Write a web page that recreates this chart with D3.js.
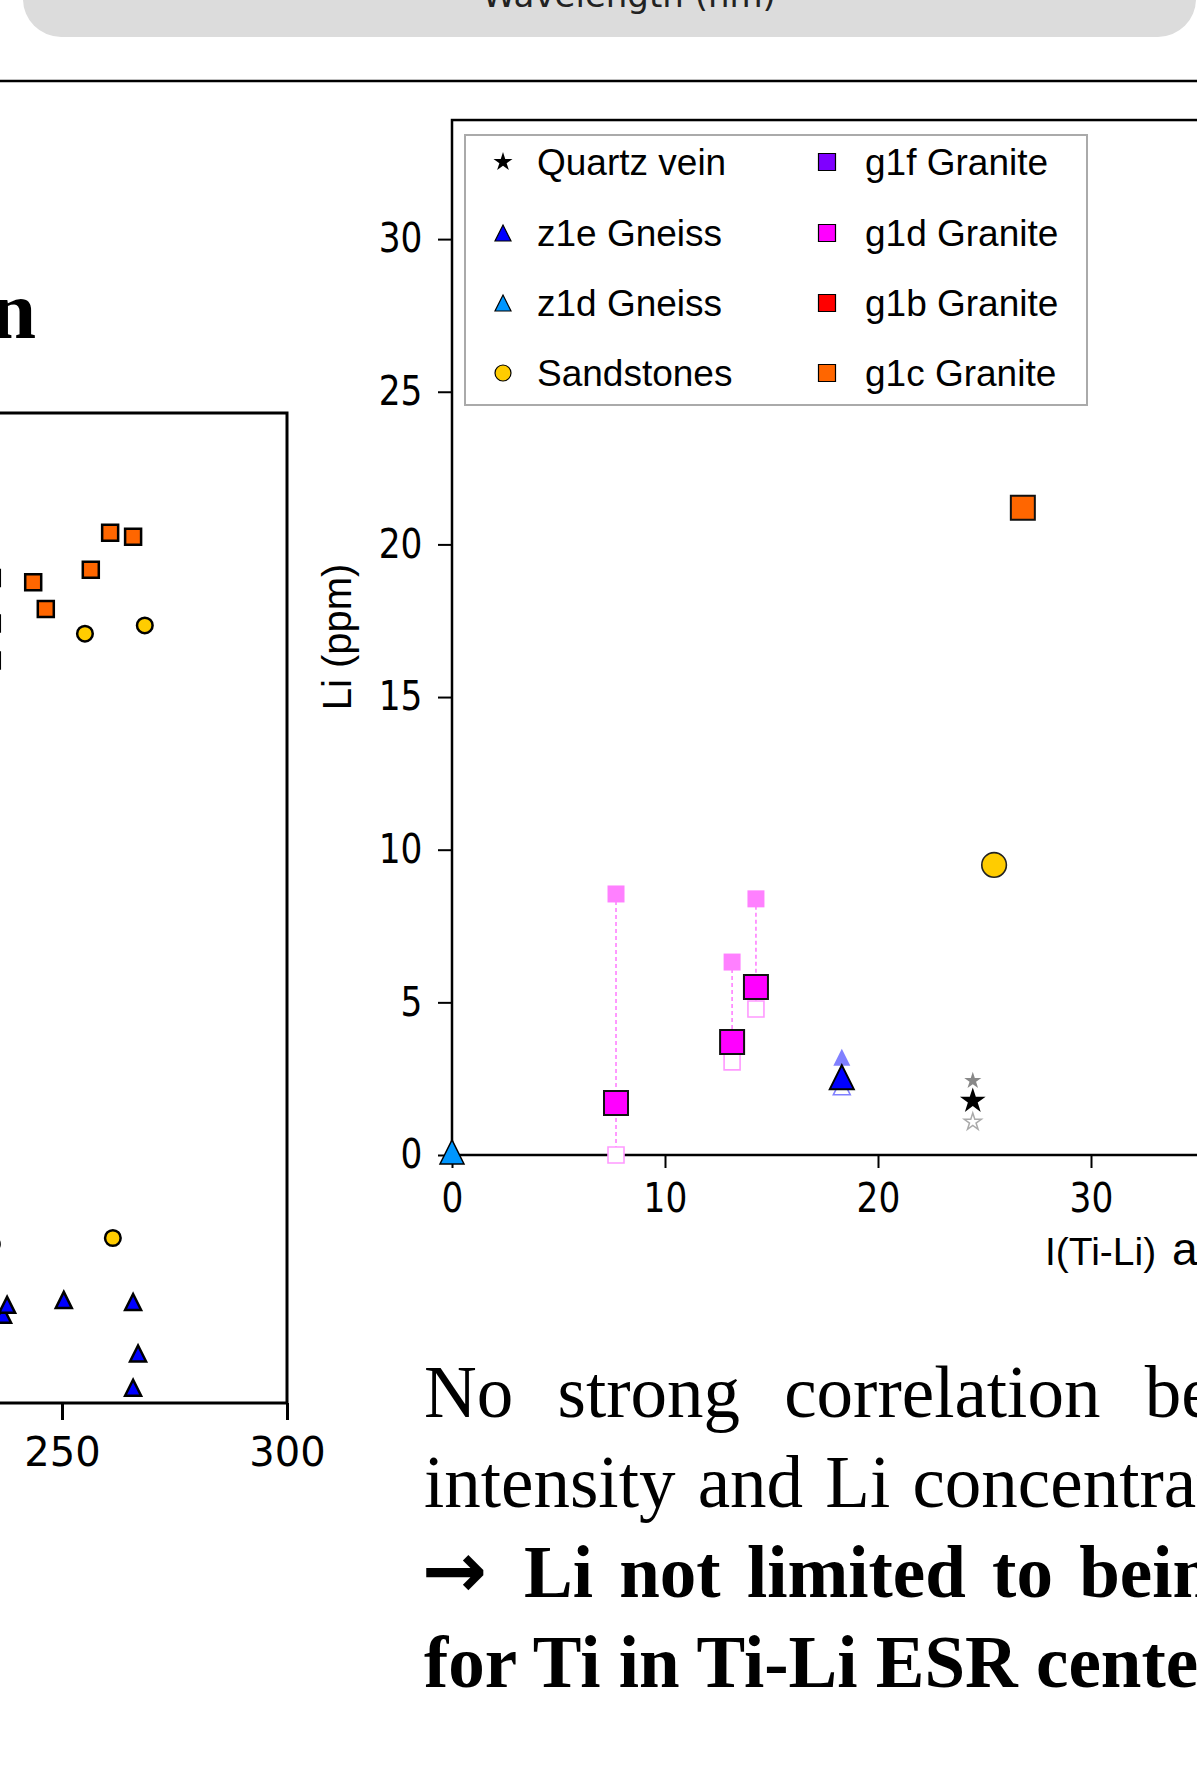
<!DOCTYPE html>
<html><head><meta charset="utf-8">
<script src="https://cdn.jsdelivr.net/npm/d3@7"></script>
<style>html,body{margin:0;padding:0;background:#fff;overflow:hidden}</style>
</head><body>
<svg id="c" width="1197" height="1778" xmlns="http://www.w3.org/2000/svg"></svg>
<script>
// ---------- DATA ----------
const headerLabel = "Wavelength (nm)";
const leftTitle = "Li concentration";

// left panel (partially visible)
const leftXTicks = [250, 300];
const leftSquaresX = [260.7, 265.8, 256.4, 243.6, 246.4, 234.4, 234.4, 234.4];
const leftSquaresY = [21.1, 21.0, 20.2, 19.9, 19.25, 20.0, 18.9, 18.0];
const leftCirclesX = [255.1, 268.4, 261.3, 234.4];
const leftCirclesY = [18.65, 18.85, 4.0, 3.85];
const leftTrianglesX = [236.9, 237.8, 250.4, 265.8, 266.9, 265.8];
const leftTrianglesY = [2.14, 2.38, 2.5, 2.45, 1.2, 0.37];

// right panel
const rightXTicks = [0, 10, 20, 30];
const rightYTicks = [0, 5, 10, 15, 20, 25, 30];
const quartzX = [24.45], quartzY = [1.77], quartzHi = [2.43], quartzLo = [1.08];
const z1eX = [18.3], z1eY = [2.55], z1eHi = [3.2], z1eLo = [2.25];
const z1dX = [0], z1dY = [0.1];
const sandX = [25.45], sandY = [9.5];
const g1dX = [7.7, 13.15, 14.27], g1dY = [1.7, 3.7, 5.5];
const g1dHi = [8.55, 6.32, 8.39], g1dLo = [0, 3.05, 4.78];
const g1cX = [26.8], g1cY = [21.2];

const legendCol1 = ["Quartz vein", "z1e Gneiss", "z1d Gneiss", "Sandstones"];
const legendCol2 = ["g1f Granite", "g1d Granite", "g1b Granite", "g1c Granite"];

const paraLines = [
  "No strong correlation between Ti-Li ESR",
  "intensity and Li concentration",
  "Li not limited to being a charge compensator",
  "for Ti in Ti-Li ESR centers"
];

// ---------- STYLE ----------
const C = {
  orange: "#ff6600", yellow: "#ffcc00", blue: "#0000ff", lblue: "#0096ff",
  magenta: "#ff00ff", purple: "#7f00ff", red: "#ff0000",
  pinkLight: "#ff80ff", pinkHollow: "#ff99ff", blueLight: "#8080ff"
};
const symTri = { draw(ctx, size) { const s = Math.sqrt(size) / 2; ctx.moveTo(0, -s); ctx.lineTo(s, s); ctx.lineTo(-s, s); ctx.closePath(); } };
const sq = side => side * side;
const circ = r => Math.PI * r * r;
const star = R => R * R / 0.8908130915292852;

const svg = d3.select("#c");
svg.append("rect").attr("width", 1197).attr("height", 1778).attr("fill", "#fff");

function pts(g, xs, ys, xS, yS, type, size, fill, stroke, sw) {
  g.append("g").selectAll("path").data(d3.zip(xs, ys)).join("path")
    .attr("transform", d => `translate(${xS(d[0])},${yS(d[1])})`)
    .attr("d", d3.symbol().type(type).size(size))
    .attr("fill", fill).attr("stroke", stroke).attr("stroke-width", sw);
}

// ---------- HEADER ----------
svg.append("rect").attr("x", 23).attr("y", -60).attr("width", 1173).attr("height", 97)
  .attr("rx", 38).attr("fill", "#dcdcdc");
svg.append("text").attr("x", 629).attr("y", 7).attr("text-anchor", "middle")
  .attr("font-family", "DejaVu Sans").attr("font-size", 34).attr("fill", "#222").text(headerLabel);
svg.append("line").attr("x1", 0).attr("x2", 1197).attr("y1", 81).attr("y2", 81)
  .attr("stroke", "#000").attr("stroke-width", 2.5);

// ---------- LEFT PANEL ----------
const lx = d3.scaleLinear().domain([200, 300]).range([-163, 287]);
const ly = d3.scaleLinear().domain([0, 24]).range([1403, 413]);
const L = svg.append("g");
L.append("text").attr("x", 36).attr("y", 338).attr("text-anchor", "end")
  .attr("font-family", "Liberation Serif").attr("font-weight", "bold").attr("font-size", 82)
  .text(leftTitle);
L.append("rect").attr("x", lx(200) - 200).attr("y", ly(24)).attr("width", lx(300) - lx(200) + 200)
  .attr("height", ly(0) - ly(24)).attr("fill", "none").attr("stroke", "#000").attr("stroke-width", 3);
const lax = L.append("g").attr("transform", `translate(0,${ly(0)})`)
  .call(d3.axisBottom(lx).tickValues(leftXTicks).tickSize(17).tickSizeOuter(0).tickPadding(18));
lax.select(".domain").remove();
lax.selectAll("line").attr("stroke-width", 3);
lax.selectAll("text").attr("font-family", "DejaVu Sans").attr("font-size", 40).attr("fill", "#000");

pts(L, leftSquaresX, leftSquaresY, lx, ly, d3.symbolSquare, sq(16), C.orange, "#000", 2.5);
pts(L, leftCirclesX, leftCirclesY, lx, ly, d3.symbolCircle, circ(7.8), C.yellow, "#000", 2.5);
pts(L, leftTrianglesX, leftTrianglesY, lx, ly, symTri, sq(16), C.blue, "#000", 2.5);

// ---------- RIGHT PANEL ----------
const rx = d3.scaleLinear().domain([0, 36]).range([452, 452 + 36 * 21.3]);
const ry = d3.scaleLinear().domain([0, 33.9]).range([1155, 1155 - 33.9 * 30.53]);
const R = svg.append("g");
R.append("rect").attr("x", rx(0)).attr("y", ry(33.9)).attr("width", rx(36) - rx(0))
  .attr("height", ry(0) - ry(33.9)).attr("fill", "none").attr("stroke", "#000").attr("stroke-width", 2.5);

const rax = R.append("g").attr("transform", `translate(0,${ry(0)})`)
  .call(d3.axisBottom(rx).tickValues(rightXTicks).tickSize(13).tickSizeOuter(0).tickPadding(16));
rax.select(".domain").remove();
rax.selectAll("line").attr("stroke-width", 2);
rax.selectAll("text").attr("font-family", "DejaVu Sans").attr("font-size", 40).attr("fill", "#000")
  .attr("transform", "scale(0.86,1)");

const ray = R.append("g").attr("transform", `translate(${rx(0)},0)`)
  .call(d3.axisLeft(ry).tickValues(rightYTicks).tickSize(14).tickSizeOuter(0).tickPadding(15));
ray.select(".domain").remove();
ray.selectAll("line").attr("stroke-width", 2);
ray.selectAll("text").attr("font-family", "DejaVu Sans").attr("font-size", 40).attr("fill", "#000")
  .attr("x", -29.5 / 0.86).attr("transform", "scale(0.86,1)");

R.append("text").attr("transform", "translate(351,637) rotate(-90)").attr("text-anchor", "middle")
  .attr("font-family", "Liberation Sans").attr("font-size", 40).text("Li (ppm)");
const xl = R.append("text").attr("y", 1265).attr("font-family", "Liberation Sans").attr("font-size", 39);
xl.append("tspan").attr("x", 1045).text("I(Ti-Li)");
xl.append("tspan").attr("x", 1172).attr("font-size", 46).text("a.u.");

// legend
const lg = R.append("g");
lg.append("rect").attr("x", 465).attr("y", 135).attr("width", 622).attr("height", 270)
  .attr("fill", "#fff").attr("stroke", "#aaa").attr("stroke-width", 2);
const rowsY = [162, 233, 303, 373];
const col1Sym = [
  [d3.symbolStar, star(10), "#000", "none", 0],
  [symTri, sq(16), C.blue, "#000", 1.2],
  [symTri, sq(16), C.lblue, "#000", 1.2],
  [d3.symbolCircle, circ(8), C.yellow, "#000", 1.2]
];
const col2Fill = [C.purple, C.magenta, C.red, C.orange];
legendCol1.forEach((t, i) => {
  const s = col1Sym[i];
  lg.append("path").attr("transform", `translate(503,${rowsY[i]})`)
    .attr("d", d3.symbol().type(s[0]).size(s[1])()).attr("fill", s[2]).attr("stroke", s[3]).attr("stroke-width", s[4]);
  lg.append("text").attr("x", 537).attr("y", rowsY[i]).attr("dy", "0.36em")
    .attr("font-family", "Liberation Sans").attr("font-size", 37).text(t);
});
legendCol2.forEach((t, i) => {
  lg.append("path").attr("transform", `translate(827,${rowsY[i]})`)
    .attr("d", d3.symbol().type(d3.symbolSquare).size(sq(17))()).attr("fill", col2Fill[i]).attr("stroke", "#000").attr("stroke-width", 1.2);
  lg.append("text").attr("x", 865).attr("y", rowsY[i]).attr("dy", "0.36em")
    .attr("font-family", "Liberation Sans").attr("font-size", 37).text(t);
});

// range lines for g1d
R.append("g").selectAll("line").data(d3.zip(g1dX, g1dHi, g1dLo)).join("line")
  .attr("x1", d => rx(d[0])).attr("x2", d => rx(d[0]))
  .attr("y1", d => ry(d[1])).attr("y2", d => ry(d[2]))
  .attr("stroke", C.pinkLight).attr("stroke-width", 1.6).attr("stroke-dasharray", "4,3");

// faint companions
pts(R, g1dX, g1dHi, rx, ry, d3.symbolSquare, sq(17), C.pinkLight, "none", 0);
pts(R, g1dX, g1dLo, rx, ry, d3.symbolSquare, sq(16), "#fff", C.pinkHollow, 1.6);
pts(R, z1eX, z1eHi, rx, ry, symTri, sq(17), C.blueLight, "none", 0);
pts(R, z1eX, z1eLo, rx, ry, symTri, sq(17), "#fff", C.blueLight, 1.5);
pts(R, quartzX, quartzHi, rx, ry, d3.symbolStar, star(9), "#888", "none", 0);
pts(R, quartzX, quartzLo, rx, ry, d3.symbolStar, star(9), "#fff", "#aaa", 1.5);

// main points
pts(R, g1dX, g1dY, rx, ry, d3.symbolSquare, sq(24), C.magenta, "#111", 2);
pts(R, z1eX, z1eY, rx, ry, symTri, sq(24), C.blue, "#000", 2);
pts(R, quartzX, quartzY, rx, ry, d3.symbolStar, star(13.5), "#000", "none", 0);
pts(R, sandX, sandY, rx, ry, d3.symbolCircle, circ(12.3), C.yellow, "#222", 1.6);
pts(R, g1cX, g1cY, rx, ry, d3.symbolSquare, sq(24), C.orange, "#111", 2);
pts(R, z1dX, z1dY, rx, ry, symTri, sq(24), C.lblue, "#000", 1.5);

// ---------- TEXT BLOCK ----------
const baseY = [1417, 1507, 1597, 1687];
const wordSp = [26, 4, 8, 0];
paraLines.forEach((t, i) => {
  const tx = svg.append("text").attr("y", baseY[i])
    .attr("font-family", "Liberation Serif").attr("font-size", 73)
    .attr("font-weight", i >= 2 ? "bold" : "normal")
    .attr("word-spacing", wordSp[i]).attr("fill", "#000");
  if (i === 2) {
    tx.append("tspan").attr("x", 422).attr("font-family", "DejaVu Sans").attr("font-size", 78)
      .attr("font-weight", "bold").text("\u2192");
    tx.append("tspan").attr("x", 524).text(t);
  } else {
    tx.append("tspan").attr("x", 424).text(t);
  }
});
</script>
</body></html>
